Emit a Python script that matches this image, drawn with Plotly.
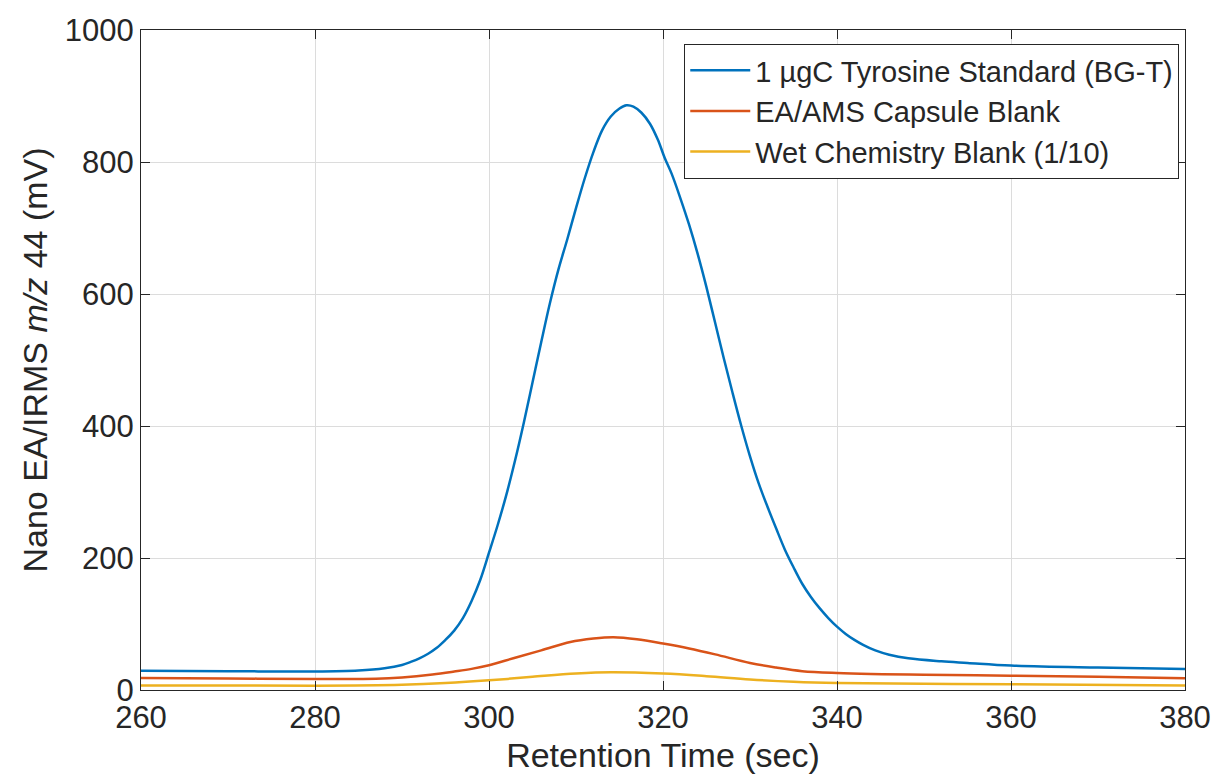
import plotly.graph_objects as go

# Blue: 1 ugC Tyrosine Standard (BG-T)
std_t = [260, 270, 280, 285, 288, 290, 291, 292, 293, 294, 295, 296, 297, 298, 299,
         300, 301, 302, 303, 304, 305, 306, 307, 308, 309, 310, 311, 312, 313, 314,
         315, 315.8, 316.6, 317.5, 318.5, 319.4, 320.2, 321, 322, 323, 324, 325, 326,
         327, 328, 329, 330, 331, 332, 333, 334, 335, 336, 337, 338, 339, 340, 341,
         342, 343, 344.4, 346, 348.2, 352, 355, 360, 370, 380]
std_v = [29, 28.5, 28, 29.5, 33, 38, 42.5, 48, 55, 64, 76, 90, 109, 135, 167,
         208, 250, 296, 348, 405, 466, 527, 586, 638, 683, 730, 775, 815, 848, 869,
         881, 886, 884, 875, 858, 834, 806, 782, 745, 705, 660, 610, 556,
         502, 450, 400, 354, 313, 278, 245, 213, 186, 161, 141, 124, 109, 96, 85,
         76, 68.5, 60, 53.5, 48, 43.5, 41, 37, 34, 32]

# Orange: EA/AMS Capsule Blank
cap_t = [260, 270, 280, 287, 290, 293.5, 296, 298, 300, 302.9, 306, 309.35, 312, 314.3,
         317, 320, 323, 326, 330, 333, 336, 340, 350, 360, 370, 380]
cap_v = [18, 17.5, 16.7, 17, 19, 23.5, 28, 32, 37.5, 48.5, 60, 72.8, 78, 80,
         77, 70.5, 63, 54, 41, 34, 28.5, 25.8, 23, 21.7, 20, 17.7]

# Yellow: Wet Chemistry Blank (1/10)
wet_t = [260, 280, 290, 295, 300, 305, 310, 314, 320, 325, 330, 335, 340, 350, 360, 380]
wet_v = [7, 6.6, 8, 10.5, 14.6, 20, 25, 27, 25, 21, 16, 12.5, 10.6, 9.5, 8.6, 7]

names = ["1 µgC Tyrosine Standard (BG-T)", "EA/AMS Capsule Blank",
         "Wet Chemistry Blank (1/10)"]
colors = ["#0072BD", "#D95319", "#EDB120"]

x_ticks = [260, 280, 300, 320, 340, 360, 380]
y_ticks = [0, 200, 400, 600, 800, 1000]

FONT = "Liberation Sans, Arial, Helvetica, sans-serif"
AX = "#262626"

fig = go.Figure()
for t, v, n, c in zip([std_t, cap_t, wet_t], [std_v, cap_v, wet_v], names, colors):
    fig.add_trace(go.Scatter(x=t, y=v, mode="lines", name=n,
                             line=dict(color=c, width=2.5, shape="spline", smoothing=1.0)))

axis_common = dict(
    showline=True, linecolor=AX, linewidth=1, mirror="ticks",
    ticks="inside", ticklen=9, tickcolor=AX, tickwidth=1,
    showgrid=True, gridcolor="#dcdcdc", gridwidth=1, zeroline=False,
    tickfont=dict(family=FONT, size=31, color=AX),
)

fig.update_layout(
    width=1223, height=779,
    margin=dict(l=141, r=33, t=30, b=88),
    paper_bgcolor="white", plot_bgcolor="white",
    font=dict(family=FONT, color=AX),
    xaxis=dict(range=[260, 380], tickvals=x_ticks, ticktext=[str(v) for v in x_ticks],
               title=dict(text="Retention Time (sec)", font=dict(family=FONT, size=34, color=AX),
                          standoff=8),
               **axis_common),
    yaxis=dict(range=[0, 1000], tickvals=y_ticks, ticktext=[str(v) for v in y_ticks],
               title=dict(text="Nano EA/IRMS <i>m/z</i> 44 (mV)",
                          font=dict(family=FONT, size=34, color=AX), standoff=6),
               **axis_common),
    legend=dict(x=0.9945, y=0.979, xanchor="right", yanchor="top",
                bgcolor="white", bordercolor=AX, borderwidth=1,
                font=dict(family=FONT, size=29, color=AX),
                tracegroupgap=0, itemwidth=60),
    showlegend=True,
)

fig.write_html("out.html")
